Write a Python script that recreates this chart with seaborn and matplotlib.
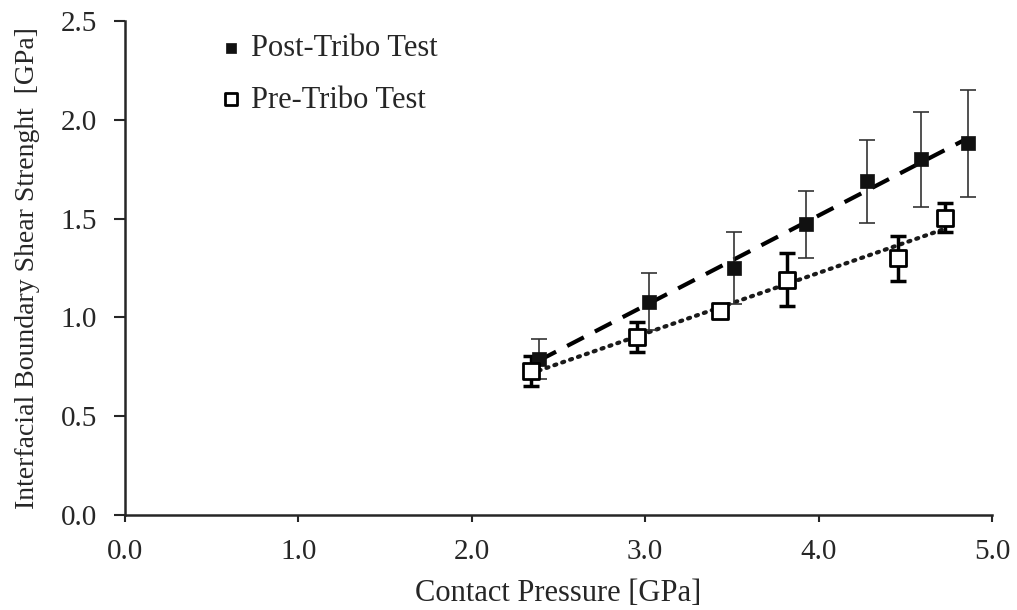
import numpy as np
import pandas as pd
import seaborn as sns
import matplotlib.pyplot as plt

# values
post_x = [2.39, 3.02, 3.51, 3.93, 4.28, 4.59, 4.86]
post_y = [0.79, 1.08, 1.25, 1.47, 1.69, 1.80, 1.88]
post_err = [0.10, 0.145, 0.18, 0.17, 0.21, 0.24, 0.27]

pre_x = [2.34, 2.95, 3.43, 3.82, 4.46, 4.73]
pre_y = [0.73, 0.90, 1.03, 1.19, 1.30, 1.505]
pre_err = [0.075, 0.076, 0.01, 0.134, 0.114, 0.072]

post = pd.DataFrame({'x': post_x, 'y': post_y, 'err': post_err})
pre = pd.DataFrame({'x': pre_x, 'y': pre_y, 'err': pre_err})

sns.set_style('ticks')
plt.rcParams['font.family'] = ['Liberation Serif', 'DejaVu Serif']

fig = plt.figure(figsize=(10.17, 6.1), dpi=100)
ax = fig.add_axes([0.1229, 0.1557, 0.8525, 0.81])

# trendlines
sns.regplot(data=post, x='x', y='y', ci=None, scatter=False, ax=ax,
            line_kws=dict(color='black', lw=3, dashes=(4.5, 3), zorder=2))
sns.regplot(data=pre, x='x', y='y', ci=None, scatter=False, ax=ax,
            line_kws=dict(color='#1a1a1a', lw=3, linestyle=(0, (0.5, 1.5)),
                          dash_capstyle='round', zorder=2))

# error bars
ax.errorbar(post['x'], post['y'], yerr=post['err'], fmt='none', ecolor='#333333',
            elinewidth=1.2, capsize=6, capthick=1.2, zorder=3)
ax.errorbar(pre['x'], pre['y'], yerr=pre['err'], fmt='none', ecolor='black',
            elinewidth=2.5, capsize=6, capthick=2.5, zorder=3)

# markers
sns.scatterplot(data=post, x='x', y='y', marker='s', s=110, color='#111111',
                edgecolor='#111111', linewidth=0.5, ax=ax, zorder=4, label='Post-Tribo Test')
sns.scatterplot(data=pre, x='x', y='y', marker='s', s=130, facecolor='white',
                edgecolor='black', linewidth=2, ax=ax, zorder=4, label='Pre-Tribo Test')

ticks_x = np.arange(0, 5.01, 1.0)
ticks_y = np.arange(0, 2.51, 0.5)
ax.set_xlim(0, 5.0)
ax.set_ylim(0, 2.5)
ax.set_xticks(ticks_x)
ax.set_yticks(ticks_y)
ax.set_xticklabels([f'{v:.1f}' for v in ticks_x])
ax.set_yticklabels([f'{v:.1f}' for v in ticks_y])
ax.tick_params(axis='y', direction='out', length=8, width=1.5, labelsize=21, pad=12)
ax.tick_params(axis='x', direction='out', length=5, width=1.5, labelsize=21, pad=12)
for side in ['left', 'bottom']:
    ax.spines[side].set_linewidth(1.8)
sns.despine(ax=ax)

ax.set_xlabel('Contact Pressure [GPa]', fontsize=22, labelpad=10)
ax.set_ylabel('Interfacial Boundary Shear Strenght  [GPa]', fontsize=20, labelpad=15)

leg = ax.legend(loc='upper left', bbox_to_anchor=(0.077, 1.03), frameon=False, fontsize=22,
                handlelength=0.8, handletextpad=0.25, labelspacing=0.75, markerscale=0.75)

fig.savefig('out.png', dpi=100)
